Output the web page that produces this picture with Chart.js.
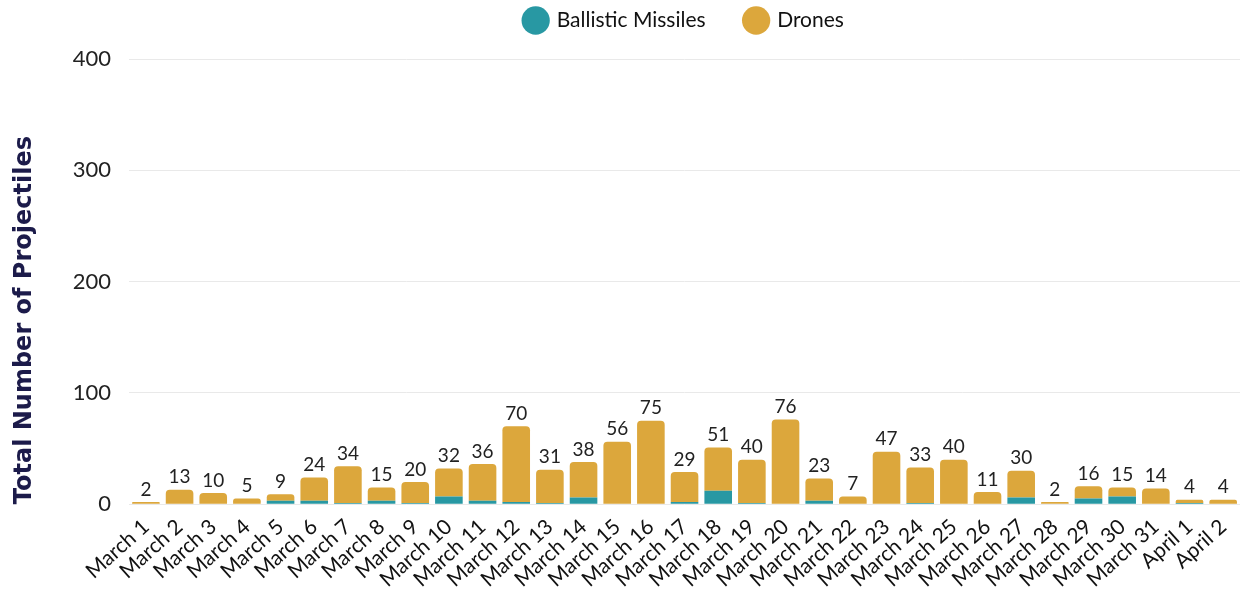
<!DOCTYPE html>
<html>
<head>
<meta charset="utf-8">
<title>Projectiles per day</title>
<script src="https://cdn.jsdelivr.net/npm/chart.js@4.4.1/dist/chart.umd.min.js"></script>
<style>
    html, body { margin: 0; padding: 0; background: #fff; }
    #wrap { width: 1246px; height: 600px; }
</style>
</head>
<body>
<div id="wrap"><canvas id="projChart" width="1246" height="600"></canvas></div>
<script>
// --- Data ---
const days = ['March 1', 'March 2', 'March 3', 'March 4', 'March 5', 'March 6', 'March 7', 'March 8',
    'March 9', 'March 10', 'March 11', 'March 12', 'March 13', 'March 14', 'March 15', 'March 16',
    'March 17', 'March 18', 'March 19', 'March 20', 'March 21', 'March 22', 'March 23', 'March 24',
    'March 25', 'March 26', 'March 27', 'March 28', 'March 29', 'March 30', 'March 31', 'April 1', 'April 2'];
const ballisticMissiles = [0, 0, 0, 0, 3, 3, 1, 3, 1, 7, 3, 2, 1, 6, 0, 0,
    2, 12, 1, 0, 3, 0, 0, 1, 0, 0, 6, 0, 5, 7, 0, 1, 0];
const drones = [2, 13, 10, 5, 6, 21, 33, 12, 19, 25, 33, 68, 30, 32, 56, 75,
    27, 39, 39, 76, 20, 7, 47, 32, 40, 11, 24, 2, 11, 8, 14, 3, 4];
const yTicks = [0, 100, 200, 300, 400];

const TEAL = '#2898a3';
const GOLD = '#dca73c';
const FONT = 'Lato, "Open Sans", sans-serif';

// total of each stack, printed above the bar
const totalLabels = {
    id: 'totalLabels',
    afterDatasetsDraw(chart) {
        const ctx = chart.ctx;
        const topMeta = chart.getDatasetMeta(chart.data.datasets.length - 1);
        ctx.save();
        ctx.font = '19px ' + FONT;
        ctx.fillStyle = '#222';
        ctx.textAlign = 'center';
        ctx.textBaseline = 'bottom';
        topMeta.data.forEach((bar, i) => {
            const total = chart.data.datasets.reduce((s, ds) => s + ds.data[i], 0);
            ctx.fillText(total, bar.x, bar.y - 3);
        });
        ctx.restore();
    }
};

// wide gap between legend items but a fixed legend box height
const legendBox = {
    id: 'legendBox',
    beforeInit(chart) {
        const fit = chart.legend.fit;
        chart.legend.fit = function() {
            fit.call(this);
            this.height = 89;
        };
    }
};

document.addEventListener('DOMContentLoaded', () => {
    const ctx = document.getElementById('projChart').getContext('2d');
    new Chart(ctx, {
        type: 'bar',
        data: {
            labels: days,
            datasets: [{
                label: 'Ballistic Missiles',
                data: ballisticMissiles,
                backgroundColor: TEAL,
                borderRadius: 0,
                barPercentage: 0.82,
                categoryPercentage: 1.0
            }, {
                label: 'Drones',
                data: drones,
                backgroundColor: GOLD,
                borderRadius: 4,
                borderSkipped: 'bottom',
                barPercentage: 0.82,
                categoryPercentage: 1.0
            }]
        },
        options: {
            responsive: false,
            animation: false,
            layout: { padding: { left: 6, right: 6, top: -30, bottom: 6 } },
            scales: {
                x: {
                    stacked: true,
                    grid: { display: false },
                    border: { display: false },
                    ticks: {
                        color: '#111',
                        font: { family: FONT, size: 21 },
                        minRotation: 42,
                        maxRotation: 42,
                        autoSkip: false,
                        padding: 2
                    }
                },
                y: {
                    stacked: true,
                    min: 0,
                    max: 400,
                    afterBuildTicks: axis => { axis.ticks = yTicks.map(v => ({ value: v })); },
                    grid: { color: '#e9e9e9', drawTicks: false },
                    border: { display: false },
                    ticks: {
                        color: '#222',
                        font: { family: FONT, size: 22 },
                        padding: 18
                    },
                    title: {
                        display: true,
                        align: 'start',
                        text: 'Total Number of Projectiles',
                        color: '#1c1b4a',
                        font: { family: '"DejaVu Sans", sans-serif', size: 24, weight: 'bold' },
                        padding: { bottom: 16 }
                    }
                }
            },
            plugins: {
                legend: {
                    position: 'top',
                    fullSize: false,
                    labels: {
                        usePointStyle: true,
                        pointStyle: 'circle',
                        boxHeight: 20,
                        padding: 40,
                        color: '#111',
                        font: { family: FONT, size: 21 }
                    }
                },
                tooltip: { enabled: false }
            }
        },
        plugins: [totalLabels, legendBox]
    });
});
</script>
</body>
</html>
